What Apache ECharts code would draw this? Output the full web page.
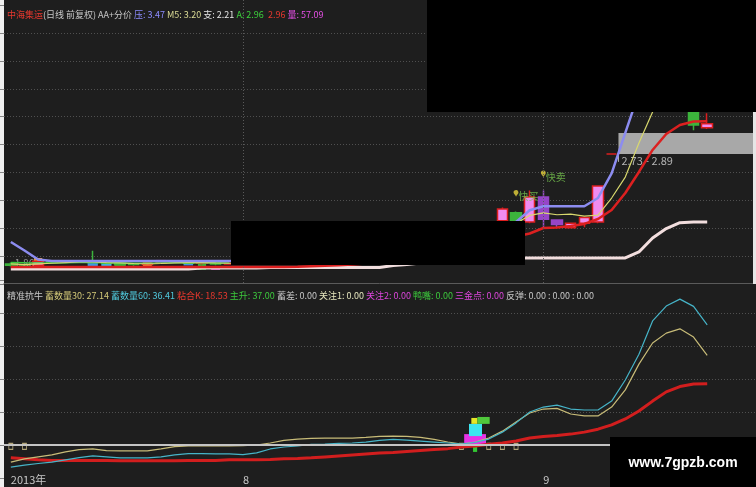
<!DOCTYPE html>
<html><head><meta charset="utf-8">
<script src="https://cdn.jsdelivr.net/npm/echarts@6/dist/echarts.min.js"></script>
<style>html,body{margin:0;padding:0;background:#1e1e1e;}#c{width:756px;height:487px;}</style>
</head><body><div id="c"></div>
<script>
// ---------- data ----------
const dates = ['2013-07-09','2013-07-10','2013-07-11','2013-07-12','2013-07-15','2013-07-16','2013-07-17','2013-07-18','2013-07-19','2013-07-22','2013-07-23','2013-07-24','2013-07-25','2013-07-26','2013-07-29','2013-07-30','2013-07-31',
'2013-08-01','2013-08-02','2013-08-05','2013-08-06','2013-08-07','2013-08-08','2013-08-09','2013-08-12','2013-08-13','2013-08-14','2013-08-15','2013-08-16','2013-08-19','2013-08-20','2013-08-21','2013-08-22','2013-08-23','2013-08-26','2013-08-27','2013-08-28','2013-08-29','2013-08-30',
'2013-09-02','2013-09-03','2013-09-04','2013-09-05','2013-09-06','2013-09-09','2013-09-10','2013-09-11','2013-09-12','2013-09-13','2013-09-16','2013-09-17','2013-09-18',
'2013-09-23','2013-09-24','2013-09-25'];

// [open, close, low, high]
const ohlc = [
[1.89,1.88,1.87,1.90],[1.88,1.87,1.86,1.89],[1.88,1.91,1.875,1.915],[1.91,1.905,1.895,1.92],[1.905,1.91,1.90,1.915],
[1.91,1.905,1.90,1.915],[1.905,1.90,1.895,1.99],[1.90,1.895,1.89,1.905],[1.895,1.89,1.885,1.90],[1.89,1.885,1.875,1.895],
[1.885,1.895,1.88,1.90],[1.895,1.91,1.89,1.915],[1.91,1.905,1.90,1.915],[1.905,1.895,1.89,1.91],[1.895,1.90,1.885,1.905],
[1.90,1.89,1.88,1.905],[1.89,1.895,1.885,1.90],[1.895,1.90,1.89,1.905],[1.90,1.91,1.895,1.915],[1.91,1.905,1.90,1.92],
[1.905,1.92,1.90,1.925],[1.92,1.93,1.91,1.94],[1.93,1.925,1.915,1.935],[1.925,1.94,1.92,1.95],[1.94,1.95,1.93,1.96],
[1.95,1.945,1.935,1.96],[1.945,1.96,1.94,1.97],[1.96,1.97,1.95,1.98],[1.97,1.965,1.955,1.98],[1.965,1.98,1.96,1.99],
[1.98,2.00,1.97,2.01],[2.00,2.03,1.99,2.04],[2.03,2.06,2.02,2.08],[2.06,2.10,2.05,2.12],[2.10,2.14,2.09,2.17],
[2.14,2.18,2.12,2.20],[2.22,2.31,2.21,2.32],[2.28,2.22,2.21,2.29],[2.21,2.40,2.20,2.45],[2.40,2.23,2.17,2.45],
[2.225,2.19,2.165,2.23],[2.165,2.20,2.16,2.205],[2.20,2.245,2.17,2.25],[2.21,2.485,2.20,2.49],[2.73,2.73,2.73,2.73],
[3.08,3.17,3.06,3.20],[3.20,3.49,3.18,3.49],[3.52,3.62,3.45,3.70],[3.60,3.42,3.35,3.66],[3.40,3.28,3.20,3.45],
[3.22,2.95,2.91,3.30],[2.93,2.96,2.92,3.04]];
const purpleCandles = [39, 40];

const supportLine = [1.851,1.851,1.851,1.851,1.851,1.851,1.851,1.851,1.851,1.851,1.851,1.851,1.851,1.851,
1.859,1.859,1.859,1.859,1.859,1.863,1.863,1.863,1.863,1.863,1.863,1.863,1.863,1.863,1.878,1.886,
1.897,1.905,1.912,1.92,1.928,1.932,1.935,1.935,1.935,1.935,
1.935,1.935,1.935,1.935,1.935,1.935,1.981,2.088,2.16,2.205,2.21,2.21];
const aLine = [1.90,1.898,1.897,1.897,1.898,1.90,1.90,1.899,1.897,1.895,1.895,1.897,1.899,1.90,1.899,1.897,1.896];
const redLine = [1.866,1.866,1.866,1.866,1.866,1.866,1.866,1.866,1.866,1.866,1.866,1.866,1.866,1.866,1.866,1.866,1.866,1.866,1.866,1.866,1.866,
1.868,1.872,1.876,1.88,1.886,1.893,1.90,1.91,1.92,
1.945,1.96,1.98,2.00,2.03,2.06,2.085,2.099,2.122,2.164,
2.168,2.18,2.195,2.233,2.302,2.431,2.592,2.76,2.882,2.95,2.977,2.98];
const m5Line = [1.89,1.885,1.89,1.895,1.90,1.905,1.905,1.90,1.898,1.893,1.89,1.893,1.898,1.90,1.90,1.897,1.895,1.895,1.898,1.90,
1.908,1.915,1.92,1.93,1.94,1.945,1.95,1.96,1.965,1.97,1.98,1.995,2.02,2.05,2.09,2.13,2.18,2.20,2.26,2.28,
2.265,2.27,2.255,2.263,2.393,2.553,2.813,3.05,3.18,3.26,3.23,3.20];
const pressLine = [2.057,1.992,1.924,1.912,1.912,1.912,1.912,1.912,1.912,1.912,1.912,1.912,1.912,1.912,1.912,1.912,1.912,1.912,1.912,1.915,
1.92,1.93,1.94,1.95,1.96,1.97,1.98,1.99,2.0,2.02,2.04,2.07,2.10,2.13,2.14,2.15,2.19,2.21,2.30,2.33,
2.33,2.33,2.33,2.393,2.581,2.891,3.198,3.40,3.52,3.55,3.52,3.47];

// colour signal blocks on the price panel: [index, low, high]
const priceSignals = [[1,1.844,1.882],[2,1.882,1.935],[6,1.874,1.905],[7,1.874,1.905],[8,1.874,1.897],[9,1.844,1.859],
[10,1.859,1.912],[11,1.889,1.92],[13,1.878,1.905],[14,1.844,1.897],[15,1.844,1.866],[39,2.23,2.40]];
const priceZone = [[45, 2.73, 2.89]];
const lowPoint = [[1, 1.86]];
const signalIdx = [37, 39];
const signalPrice = [2.40, 2.55];
const signalText = ['快买', '快卖'];

// lower indicator panel
const vol30 = [-5.2,-4.2,-3.6,-3.0,-2.1,-1.4,-1.2,-1.7,-1.8,-1.8,-1.8,-1.2,-0.5,-0.3,-0.3,-0.3,-0.3,-0.2,0.0,0.6,
1.4,1.8,2.0,2.1,2.1,2.1,2.3,2.6,2.7,2.6,2.3,1.7,0.9,0.3,0.9,2.1,4.2,7.0,9.7,10.9,
11.1,9.4,8.8,8.8,11.5,16.7,24.5,30.9,33.9,35.2,32.7,27.14];
const vol60 = [-6.7,-6.1,-5.6,-5.2,-4.5,-3.8,-3.3,-3.6,-3.9,-3.9,-3.9,-3.6,-3.0,-2.6,-2.6,-2.7,-2.7,-2.9,-2.4,-1.2,
-0.6,-0.3,0.2,0.3,0.5,0.6,0.9,1.4,1.7,1.5,1.2,0.9,0.6,0.3,0.8,1.8,3.9,6.7,10.0,11.5,
12.1,10.9,10.6,10.6,13.3,19.7,27.5,37.6,42.1,44.2,42.0,36.41];
const glueK = [-3.9,-4.2,-4.5,-4.7,-4.7,-4.7,-4.7,-4.7,-4.8,-4.8,-4.8,-4.8,-4.8,-4.7,-4.7,-4.7,-4.5,-4.5,-4.5,-4.4,
-4.2,-4.1,-3.9,-3.6,-3.3,-3.0,-2.7,-2.4,-2.3,-2.0,-1.7,-1.4,-1.1,-0.6,-0.3,0.2,0.6,1.2,2.1,2.6,
2.9,3.3,3.9,4.8,6.1,7.9,10.3,13.3,16.1,17.7,18.5,18.53];
const lowerBlocks = [[34,-0.3,3.3],[34,2.7,6.4],[34,6.4,8.2],[34,6.4,8.5],[34,-2.1,-0.6]];
const zeroMarks = [[0,-0.4],[1,-0.4],[33,-0.4],[35,-0.4],[36,-0.4],[37,-0.4]];

const topHeader = [['中海集运','r',''],['(日线 前复权) AA+分价','w',' '],['压: 3.47','b',' '],['M5: 3.20','y',' '],['支: 2.21','s',' '],['A: 2.96','g','  '],['2.96','r',' '],['量: 57.09','m','']];
const lowHeader = [['精准抗牛','w',' '],['蓄数量30: 27.14','y',' '],['蓄数量60: 36.41','c',' '],['粘合K: 18.53','r',' '],['主升: 37.00','g',' '],['蓄差: 0.00','w',' '],['关注1: 0.00','l',' '],['关注2: 0.00','m',' '],['鸭嘴: 0.00','g',' '],['三金点: 0.00','m',' '],['反弹: 0.00 : 0.00 : 0.00','w','']];

// ---------- styles ----------
const FONT = "'Noto Sans CJK SC','Noto Sans',sans-serif";
const HFS = 9;
const signalStyles = [
 {w:0.5,dx:0,c:'#dc3cc8'},{w:0.6,dx:0,c:'#f0a03c'},{w:0.75,dx:0,c:'#3c96e6'},{w:0.75,dx:0,c:'#3cb4dc'},{w:0.85,dx:0,c:'#32b43c'},
 {w:0.4,dx:0,c:'#dc3cc8'},{w:0.65,dx:0,c:'#f0a03c'},{w:0.75,dx:0,c:'#dc3cc8'},{w:0.7,dx:0,c:'#3c96e6'},{w:0.6,dx:0,c:'#32b43c'},
 {w:0.65,dx:0,c:'#dc3cc8'},{w:0.45,dx:0,c:'#46b43c'}];
const blockStyles = [{w:1.6,dx:0,c:'#e632e6'},{w:0.95,dx:0.03,c:'#3ce6f0'},{w:0.45,dx:-0.05,c:'#e6e628'},{w:0.9,dx:0.62,c:'#50c83c'},{w:0.3,dx:0,c:'#32c832'}];

function rectRender(styles){
  return function(params, api){
    const s = styles[params.dataIndex];
    const bw = api.size([1,0])[0];
    const top = api.coord([api.value(0), api.value(2)]);
    const bot = api.coord([api.value(0), api.value(1)]);
    const w = bw * s.w;
    return {type:'rect', shape:{x: top[0] + bw*s.dx - w/2, y: top[1], width: w, height: Math.max(1, bot[1]-top[1])}, style:{fill: s.c}};
  };
}
function richText(items){
  return items.map(([t,k,sep]) => '{'+k+'|'+t+'}' + sep).join('');
}
function richStyles(map){
  const o = {};
  for (const k in map) o[k] = {color: map[k], fontSize: HFS, fontWeight: 'normal', fontFamily: FONT};
  return o;
}

const candleData = ohlc.map((v,i) => purpleCandles.includes(i)
  ? {value: v, itemStyle: {color: '#9646c8', color0: '#9646c8', borderColor: '#9646c8', borderColor0: '#9646c8'}}
  : v);
const monthMarks = [];
dates.forEach((d,i) => { if (i>0 && d.slice(5,7) !== dates[i-1].slice(5,7)) monthMarks.push({xAxis: i}); });

const dotted = {color: '#505050', type: [1,2], width: 1};
const chart = echarts.init(document.getElementById('c'), null, {renderer: 'canvas'});
chart.setOption({
  animation: false,
  backgroundColor: '#1e1e1e',
  title: [
    {left: 2, top: 5, text: richText(topHeader), textStyle: {fontSize: HFS, fontWeight:'normal', fontFamily: FONT, rich: richStyles({r:'#e8382e',w:'#c8c8c8',b:'#8c8cff',y:'#dcdc96',s:'#e6e6e6',g:'#3cd23c',m:'#e650e6'})}},
    {left: 2, top: 286, text: richText(lowHeader), textStyle: {fontSize: HFS, fontWeight:'normal', fontFamily: FONT, rich: richStyles({w:'#c8c8c8',y:'#d2c878',c:'#50c8dc',r:'#e8382e',g:'#3cc83c',l:'#e6e6be',m:'#dc46dc'})}}
  ],
  grid: [
    {left: 4, width: 751, top: 0, height: 283},
    {left: 4, width: 751, top: 280, height: 198},
    {left: 4, width: 751, top: 5.125, height: 278.75}
  ],
  xAxis: [
    {type:'category', gridIndex:0, data: dates, boundaryGap: true, axisLine:{lineStyle:{color:'#5a5a5a'}}, axisTick:{show:false}, axisLabel:{show:false}, splitLine:{show:false}},
    {type:'category', gridIndex:1, data: dates, boundaryGap: true, offset: -5,
      axisLine:{lineStyle:{color:'#6a6a6a'}}, axisTick:{show:false}, splitLine:{show:false},
      axisLabel:{interval:0, align:'left', margin: 1, color:'#c8c8c8', fontSize: 11, fontFamily: FONT,
        formatter: (v, i) => {
          if (i === 0) return v.slice(0,4) + '年';
          if (dates[i-1] && v.slice(5,7) !== dates[i-1].slice(5,7)) return String(+v.slice(5,7));
          return '';
        }}},
    {type:'category', gridIndex:2, data: dates, show: false}
  ],
  yAxis: [
    {type:'value', gridIndex:0, min: 1.744, max: 3.905, show: false},
    {type:'value', gridIndex:2, min: 0, max: 10, interval: 1, axisLine:{show:false}, axisLabel:{show:false},
      axisTick:{show:true, length: 4, lineStyle:{color:'#888'}}, splitLine:{show:true, showMinLine:false, showMaxLine:false, lineStyle: dotted}},
    {type:'value', gridIndex:1, min: -10, max: 50, interval: 10, axisLine:{show:false}, axisLabel:{show:false},
      axisTick:{show:true, length: 4, lineStyle:{color:'#888'}}, splitLine:{show:true, showMinLine:false, showMaxLine:false, lineStyle: dotted}}
  ],
  series: [
    {type:'line', xAxisIndex:0, yAxisIndex:0, data: supportLine, showSymbol:false, lineStyle:{color:'#f2dede', width:3},
      markLine:{silent:true, symbol:'none', label:{show:false}, lineStyle:{color:'#5a5a5a', type:[1,2], width:1}, data: monthMarks}},
    {type:'line', xAxisIndex:0, yAxisIndex:0, data: aLine, showSymbol:false, lineStyle:{color:'#3cc83c', width:1.5}},
    {type:'line', xAxisIndex:0, yAxisIndex:0, data: redLine, showSymbol:false, lineStyle:{color:'#dc2020', width:2.5}},
    {type:'line', xAxisIndex:0, yAxisIndex:0, data: m5Line, showSymbol:false, lineStyle:{color:'#d8d86e', width:1.2}},
    {type:'line', xAxisIndex:0, yAxisIndex:0, data: pressLine, showSymbol:false, lineStyle:{color:'#8c8cf0', width:2.5}},
    {type:'candlestick', xAxisIndex:0, yAxisIndex:0, data: candleData, barWidth: 11,
      itemStyle:{color:'#f08cf0', color0:'#3cb43c', borderColor:'#dc1e1e', borderColor0:'#3cb43c', borderWidth:1.5}},
    {type:'custom', xAxisIndex:0, yAxisIndex:0, data: priceSignals, renderItem: rectRender(signalStyles), encode:{x:0, y:[1,2]}},
    {type:'custom', xAxisIndex:0, yAxisIndex:0, data: priceZone, encode:{x:0, y:[1,2]},
      renderItem: function(params, api){
        const bw = api.size([1,0])[0];
        const hi = api.coord([api.value(0), api.value(2)]);
        const lo = api.coord([api.value(0), api.value(1)]);
        const left = hi[0] - bw/2;
        const right = params.coordSys.x + params.coordSys.width;
        return {type:'group', children:[
          {type:'rect', shape:{x:left, y:hi[1], width:right-left, height:lo[1]-hi[1]}, style:{fill:'#a8a8a8'}},
          {type:'line', shape:{x1:left, y1:lo[1], x2:left, y2:lo[1]+8}, style:{stroke:'#b4b4b4', lineWidth:1}},
          {type:'text', x: left+3, y: lo[1]+1, style:{text: api.value(1).toFixed(2)+' - '+api.value(2).toFixed(2), fill:'#b4b4b4', font:'11px '+FONT, verticalAlign:'top'}}
        ]};
      }},
    {type:'scatter', xAxisIndex:0, yAxisIndex:0, data: lowPoint, symbolSize: 0,
      label:{show:true, position:'top', distance: 0, formatter: p => p.value[1].toFixed(2), color:'#b4b4b4', fontSize:10, fontFamily: FONT}},
    {type:'scatter', xAxisIndex:0, yAxisIndex:0, data: signalIdx.map((x,i)=>({value:[x, signalPrice[i]], name: signalText[i]})),
      symbol:'pin', symbolSize: 8, itemStyle:{color:'#e6d23c'},
      label:{show:true, position:'right', distance: 0, offset:[0,3], formatter: p => p.name, color:'#78c850', fontSize:10, fontFamily: FONT}},

    {type:'line', xAxisIndex:1, yAxisIndex:2, data: glueK, showSymbol:false, lineStyle:{color:'#d21e1e', width:3},
      markLine:{silent:true, symbol:'none', label:{show:false}, lineStyle:{color:'#c4c4c4', type:'solid', width:2}, data:[{yAxis:0}]}},
    {type:'line', xAxisIndex:1, yAxisIndex:2, data: vol30, showSymbol:false, lineStyle:{color:'#c8bc78', width:1.2}},
    {type:'line', xAxisIndex:1, yAxisIndex:2, data: vol60, showSymbol:false, lineStyle:{color:'#46b4c8', width:1.2}},
    {type:'custom', xAxisIndex:1, yAxisIndex:2, data: lowerBlocks, renderItem: rectRender(blockStyles), encode:{x:0, y:[1,2]}},
    {type:'scatter', xAxisIndex:1, yAxisIndex:2, data: zeroMarks, symbol:'rect', symbolSize:[4,6],
      itemStyle:{color:'rgba(0,0,0,0)', borderColor:'#d8c890', borderWidth:1}}
  ],
  graphic: [
    {type:'rect', z:-10, shape:{x:0, y:0, width:4, height:487}, style:{fill:'#f0f0f0'}},
    {type:'rect', z:100, shape:{x:753, y:112, width:3, height:172}, style:{fill:'#e6e6e6'}},
    {type:'rect', z:100, shape:{x:427, y:0, width:329, height:112}, style:{fill:'#000'}},
    {type:'rect', z:100, shape:{x:231, y:221, width:294, height:44}, style:{fill:'#000'}},
    {type:'rect', z:100, shape:{x:610, y:437, width:146, height:50}, style:{fill:'#000'}},
    {type:'text', z:101, x:683, y:463, style:{text:'www.7gpzb.com', fill:'#fff', font:'bold 14px "Liberation Sans", Arial, sans-serif', align:'center', verticalAlign:'middle'}}
  ]
});
</script></body></html>
